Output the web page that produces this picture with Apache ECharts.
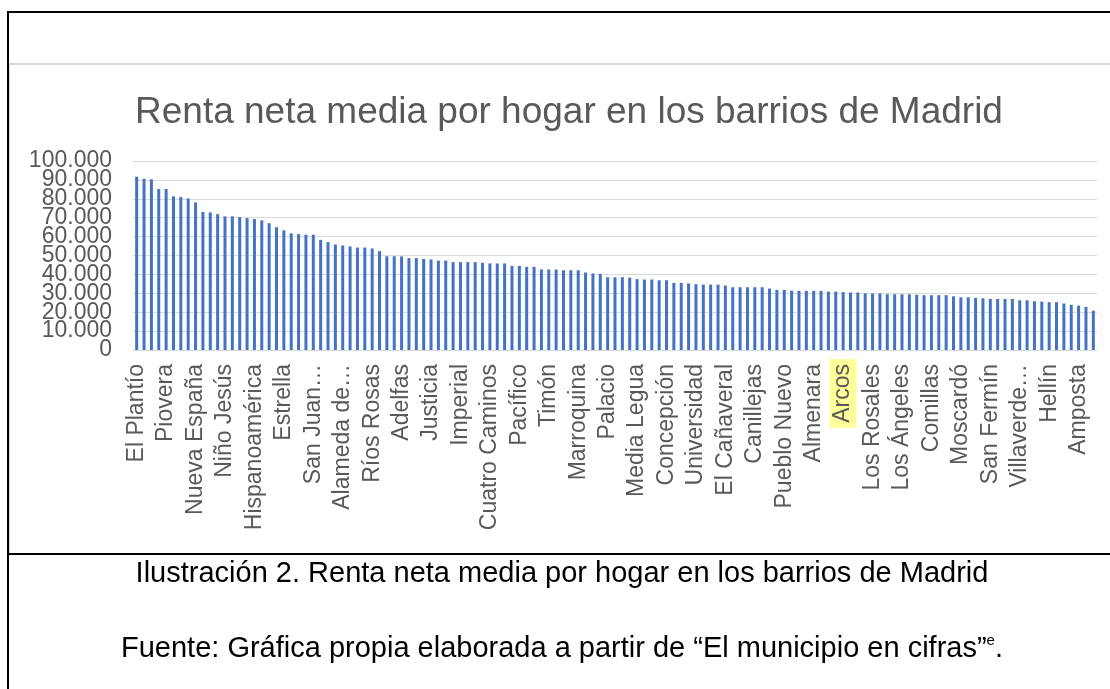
<!DOCTYPE html>
<html>
<head>
<meta charset="utf-8">
<title>Renta neta media por hogar en los barrios de Madrid</title>
<script src="https://cdn.jsdelivr.net/npm/echarts@6/dist/echarts.min.js"></script>
<style>
  html, body { margin: 0; padding: 0; background: #fff; }
  #page { position: relative; width: 1110px; height: 689px; overflow: hidden; font-family: "Liberation Sans", Arial, sans-serif; }
  #chart { position: absolute; left: 0; top: 0; width: 1110px; height: 689px; }
  .line { position: absolute; }
  .caption { position: absolute; left: 8px; width: 1108px; text-align: center; font-size: 29px; line-height: 29px; color: #000; white-space: nowrap; }
  .caption sup { font-size: 15px; vertical-align: 12px; line-height: 0; }
</style>
</head>
<body>
<div id="page">
  <div id="chart"></div>
  <!-- marco del documento -->
  <div class="line" style="left:7px;top:11px;width:1103px;height:2px;background:#000;"></div>
  <div class="line" style="left:7px;top:11px;width:2px;height:678px;background:#000;"></div>
  <div class="line" style="left:9px;top:63px;width:1101px;height:2px;background:#d9d9d9;"></div>
  <div class="line" style="left:9px;top:64px;width:1px;height:490px;background:#d9d9d9;"></div>
  <div class="line" style="left:7px;top:553px;width:1103px;height:2px;background:#000;"></div>
  <div class="caption" style="top:558px;">Ilustración 2. Renta neta media por hogar en los barrios de Madrid</div>
  <div class="caption" style="top:633px;">Fuente: Gráfica propia elaborada a partir de “El municipio en cifras”<sup>e</sup>.</div>
</div>

<script>
// barrios (solo se ven uno de cada cuatro en el eje)
var shownNames = ['El Plantío', 'Piovera', 'Nueva España', 'Niño Jesús', 'Hispanoamérica', 'Estrella',
    'San Juan…', 'Alameda de…', 'Ríos Rosas', 'Adelfas', 'Justicia', 'Imperial', 'Cuatro Caminos',
    'Pacífico', 'Timón', 'Marroquina', 'Palacio', 'Media Legua', 'Concepción', 'Universidad',
    'El Cañaveral', 'Canillejas', 'Pueblo Nuevo', 'Almenara', 'Arcos', 'Los Rosales', 'Los Ángeles',
    'Comillas', 'Moscardó', 'San Fermín', 'Villaverde…', 'Hellín', 'Amposta'];

// renta neta media por hogar (euros)
var renta = [
    91700, 90600, 90300, 85200, 85200, 81300, 80900, 80200, 78100, 73000,
    72800, 71900, 70700, 70700, 70300, 69800, 69300, 68600, 67100, 65000,
    63300, 61700, 61300, 61000, 61000, 58300, 57100, 55800, 55300, 54800,
    54200, 54200, 53700, 52300, 49600, 49600, 49500, 48600, 48600, 48200,
    47900, 47300, 47300, 46500, 46500, 46500, 46500, 46100, 45800, 45800,
    45800, 44500, 44500, 44000, 44000, 42600, 42600, 42600, 42200, 42200,
    42200, 41000, 40500, 40300, 38500, 38500, 38500, 38300, 37500, 37300,
    37300, 36900, 36900, 35500, 35500, 35200, 34800, 34600, 34600, 34600,
    34100, 33200, 33200, 33200, 33200, 33200, 32500, 31800, 31800, 31400,
    31300, 31300, 31300, 31300, 30900, 30900, 30600, 30400, 30400, 30000,
    29900, 29900, 29500, 29500, 29500, 29500, 29200, 29000, 29000, 29000,
    29000, 28400, 27900, 27900, 27600, 27400, 27000, 27000, 27000, 27000,
    26300, 26300, 25800, 25600, 25300, 25300, 24600, 23900, 23500, 22800,
    20800
];

var yTicks = [0, 10000, 20000, 30000, 40000, 50000, 60000, 70000, 80000, 90000, 100000];
var highlighted = 'Arcos';

// categorias: el nombre visible cada 4 barras, el resto sin etiqueta
var barrios = [];
for (var i = 0; i < renta.length; i++) {
    barrios.push(i % 4 === 0 ? shownNames[i / 4] : '');
}

function puntos(v) {
    return String(v).replace(/\B(?=(\d{3})+(?!\d))/g, '.');
}

var txt = '#595959';
var grid = '#d9d9d9';
var font = '"Liberation Sans", Arial, sans-serif';
var yMin = yTicks[0], yMax = yTicks[yTicks.length - 1], yStep = yTicks[1] - yTicks[0];

// las etiquetas del eje Y se solapan: se reparten en dos ejes superpuestos
// (impares en el principal, pares en el segundo) para que ECharts no oculte ninguna
var yLabelStyle = { margin: 21, color: txt, fontFamily: font, fontSize: 23 };

var option = {
    animation: false,
    title: {
        text: 'Renta neta media por hogar en los barrios de Madrid',
        left: 130,
        top: 89,
        textStyle: { color: txt, fontSize: 37, fontWeight: 'normal', fontFamily: font }
    },
    grid: { left: 133, right: 13, top: 161, bottom: 339, containLabel: false },
    xAxis: {
        type: 'category',
        data: barrios,
        boundaryGap: true,
        axisLine: { lineStyle: { color: grid, width: 1 } },
        axisTick: { show: false },
        axisLabel: {
            interval: 3,
            rotate: 90,
            margin: 9,
            color: txt,
            fontFamily: font,
            fontSize: 23,
            formatter: function (v) {
                return v === highlighted ? '{hl|' + v + '}' : '{n|' + v + '}';
            },
            rich: {
                n: { fontSize: 23, fontFamily: font, color: txt, padding: [2, 5, 2, 5] },
                hl: { fontSize: 23, fontFamily: font, color: txt, padding: [2, 5, 2, 5], backgroundColor: '#ffff99' }
            }
        }
    },
    yAxis: [{
        type: 'value',
        position: 'left',
        min: yMin,
        max: yMax,
        interval: yStep,
        axisLine: { show: false },
        axisTick: { show: false },
        splitLine: { lineStyle: { color: grid, width: 1 } },
        axisLabel: Object.assign({}, yLabelStyle, {
            showMinLabel: false,
            showMaxLabel: false,
            formatter: function (v) { return (v / yStep) % 2 === 1 ? puntos(v) : ''; }
        })
    }, {
        type: 'value',
        position: 'left',
        offset: 0,
        min: yMin,
        max: yMax,
        interval: yStep * 2,
        axisLine: { show: false },
        axisTick: { show: false },
        splitLine: { show: false },
        axisLabel: Object.assign({}, yLabelStyle, {
            showMinLabel: true,
            showMaxLabel: true,
            formatter: puntos
        })
    }],
    series: [{
        type: 'bar',
        data: renta,
        yAxisIndex: 0,
        barWidth: 3,
        itemStyle: { color: '#4472c4' }
    }]
};

var myChart = echarts.init(document.getElementById('chart'));
myChart.setOption(option);
</script>
</body>
</html>
